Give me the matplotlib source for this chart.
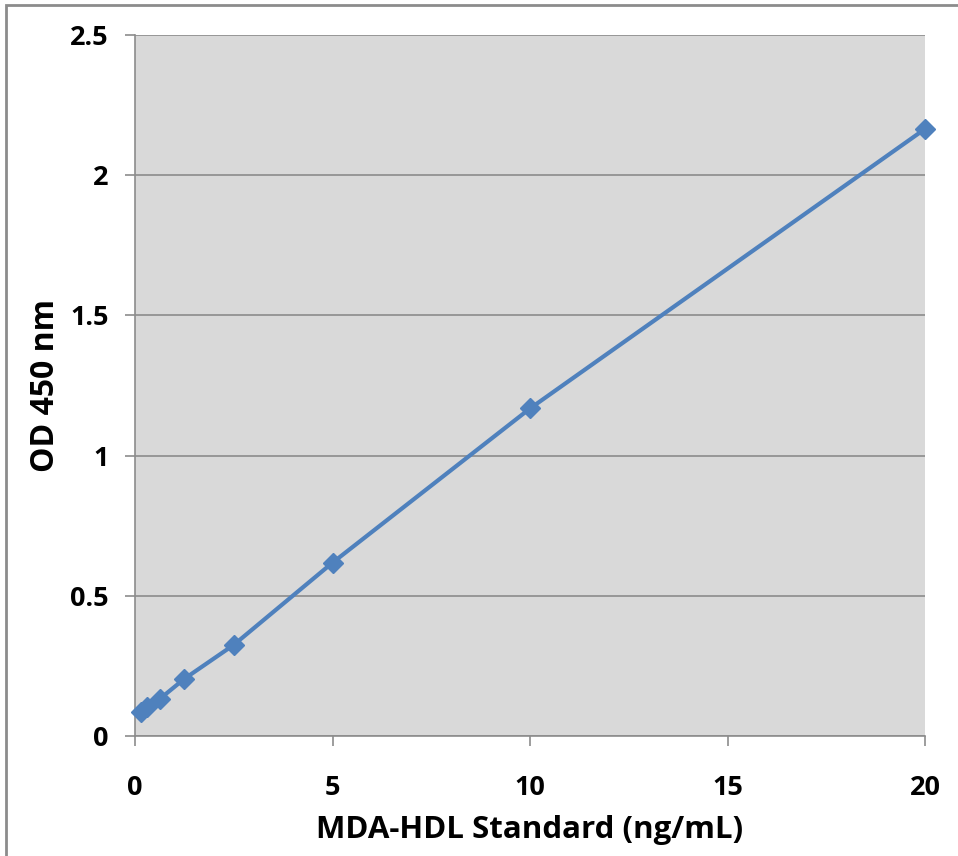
import matplotlib.pyplot as plt
from matplotlib.patches import Rectangle

# стандартная кривая MDA-HDL
conc = [0.156, 0.3125, 0.625, 1.25, 2.5, 5, 10, 20]
od = [0.086, 0.104, 0.132, 0.204, 0.325, 0.618, 1.168, 2.165]
x_ticks = [0, 5, 10, 15, 20]
y_ticks = [0, 0.5, 1, 1.5, 2, 2.5]
y_labels = ['0', '0.5', '1', '1.5', '2', '2.5']

W, H = 958, 856
fig = plt.figure(figsize=(W / 100, H / 100), dpi=100)
ax = fig.add_axes([135 / W, 1 - 736 / H, (925 - 135) / W, (736 - 35) / H])

# рамка всей диаграммы
fig.patches.append(Rectangle((6 / W, -0.1), 1.2, 1 - 5 / H + 0.1,
                             transform=fig.transFigure, fill=False,
                             edgecolor='#8c8c8c', linewidth=2))

ax.set_facecolor('#d9d9d9')
ax.plot(conc, od, color='#4f81bd', linewidth=3, marker='D',
        markersize=10, clip_on=False, zorder=3)

ax.set_xlim(0, 20)
ax.set_ylim(0, 2.5)
ax.set_xticks(x_ticks)
ax.set_yticks(y_ticks)
ax.set_yticklabels(y_labels)
ax.grid(axis='y', color='#8c8c8c', linewidth=1.2)
ax.set_axisbelow(True)

for s in ['top', 'right']:
    ax.spines[s].set_visible(False)
for s in ['left', 'bottom']:
    ax.spines[s].set_color('#8c8c8c')
    ax.spines[s].set_linewidth(1.2)

font = dict(family='Open Sans', weight='bold')
ax.tick_params(axis='both', colors='#8c8c8c', length=7, width=1.2,
               labelcolor='black', labelsize=19.5)
ax.tick_params(axis='x', pad=21)
ax.tick_params(axis='y', pad=12)
for lab in ax.get_xticklabels() + ax.get_yticklabels():
    lab.set_fontfamily('Open Sans')
    lab.set_fontweight('bold')

ax.set_xlabel('MDA-HDL Standard (ng/mL)', fontsize=22.5, labelpad=10, **font)
ax.set_ylabel('OD 450 nm', fontsize=23, labelpad=6, **font)

fig.savefig('out.png', dpi=100)
